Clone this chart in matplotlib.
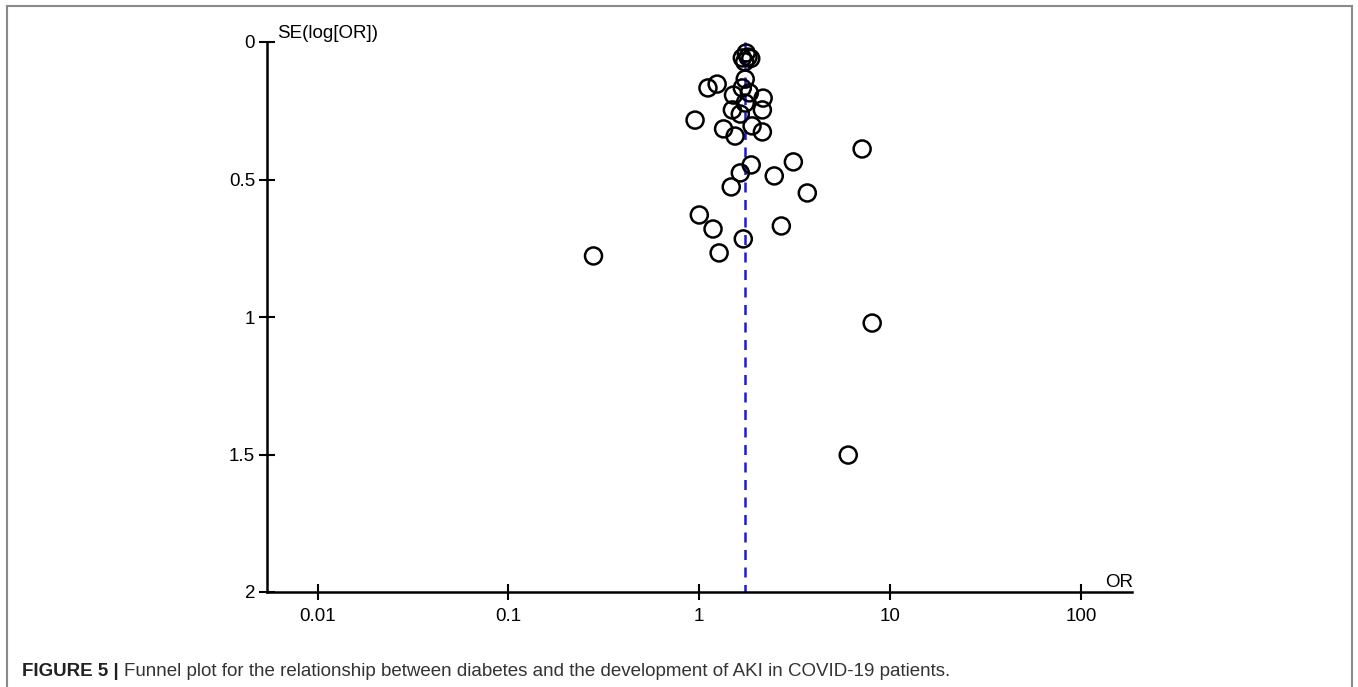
import matplotlib
matplotlib.use("Agg")
import matplotlib.pyplot as plt
from matplotlib.lines import Line2D

plt.rcParams['font.family'] = ['Liberation Sans', 'DejaVu Sans']

# Study odds ratios and their standard errors
odds_ratio = [1.76, 1.80, 1.68, 1.86, 1.73, 1.74, 1.11, 1.24, 1.51, 1.68,
              1.83, 2.16, 1.74, 1.49, 1.64, 2.14, 0.95, 1.34, 1.54, 1.89,
              2.14, 7.13, 3.11, 1.87, 1.64, 2.47, 1.47, 3.68, 1.00, 1.18,
              2.69, 1.70, 1.27, 0.279, 8.05, 6.03]
se_log_or = [0.040, 0.055, 0.058, 0.060, 0.072, 0.135, 0.167, 0.153, 0.193, 0.167,
             0.185, 0.204, 0.222, 0.247, 0.262, 0.247, 0.284, 0.316, 0.342, 0.305,
             0.327, 0.389, 0.436, 0.447, 0.476, 0.487, 0.527, 0.549, 0.629, 0.680,
             0.669, 0.716, 0.767, 0.778, 1.022, 1.502]
pooled_or = 1.74

x_ticks = [0.01, 0.1, 1, 10, 100]
x_tick_labels = ["0.01", "0.1", "1", "10", "100"]
y_ticks = [0, 0.5, 1, 1.5, 2]
y_tick_labels = ["0", "0.5", "1", "1.5", "2"]

W, H = 1358, 687
fig = plt.figure(figsize=(W / 100, H / 100), dpi=100)

ax = fig.add_axes([267 / W, 1 - 592 / H, (1132 - 267) / W, (592 - 42) / H])
ax.set_xscale('log')
ax.set_xlim(10 ** -2.265, 10 ** 2.267)
ax.set_ylim(2, 0)

ax.scatter(odds_ratio, se_log_or, s=150, facecolors='none', edgecolors='black',
           linewidths=1.8, zorder=3, clip_on=False)
ax.plot([pooled_or, pooled_or], [0, 2], color='#1a1ad6', linestyle=(0, (4, 3)),
        linewidth=1.8, zorder=2)

for side in ['top', 'right']:
    ax.spines[side].set_visible(False)
for side in ['left', 'bottom']:
    ax.spines[side].set_linewidth(1.8)
    ax.spines[side].set_color('black')

ax.set_xticks(x_ticks)
ax.set_xticklabels(x_tick_labels)
ax.xaxis.set_minor_locator(matplotlib.ticker.NullLocator())
ax.set_yticks(y_ticks)
ax.set_yticklabels(y_tick_labels)
ax.tick_params(axis='both', direction='inout', length=11, width=1.5,
               labelsize=13.5, colors='black', pad=3)
ax.tick_params(axis='x', pad=6)

fig.text(277 / W, 1 - 38 / H, "SE(log[OR])", fontsize=13.5, ha='left', va='baseline')
fig.text(1133 / W, 1 - 587 / H, "OR", fontsize=13.5, ha='right', va='baseline')

# Caption and frame
fig.text(22 / W, 1 - 676 / H, "FIGURE 5 |", fontsize=13.5, fontweight='bold',
         ha='left', va='baseline', color='#222222')
fig.text(124 / W, 1 - 676 / H,
         "Funnel plot for the relationship between diabetes and the development of AKI in COVID-19 patients.",
         fontsize=13.5, ha='left', va='baseline', color='#333333')

frame_color = '#8a8a8a'
fig.add_artist(Line2D([7 / W, 7 / W], [0, 1 - 6 / H], transform=fig.transFigure,
                      color=frame_color, linewidth=1.5))
fig.add_artist(Line2D([7 / W, 1352 / W], [1 - 6 / H, 1 - 6 / H], transform=fig.transFigure,
                      color=frame_color, linewidth=1.5))
fig.add_artist(Line2D([1352 / W, 1352 / W], [0, 1 - 6 / H], transform=fig.transFigure,
                      color=frame_color, linewidth=1.5))

fig.savefig("out.png", dpi=100)
